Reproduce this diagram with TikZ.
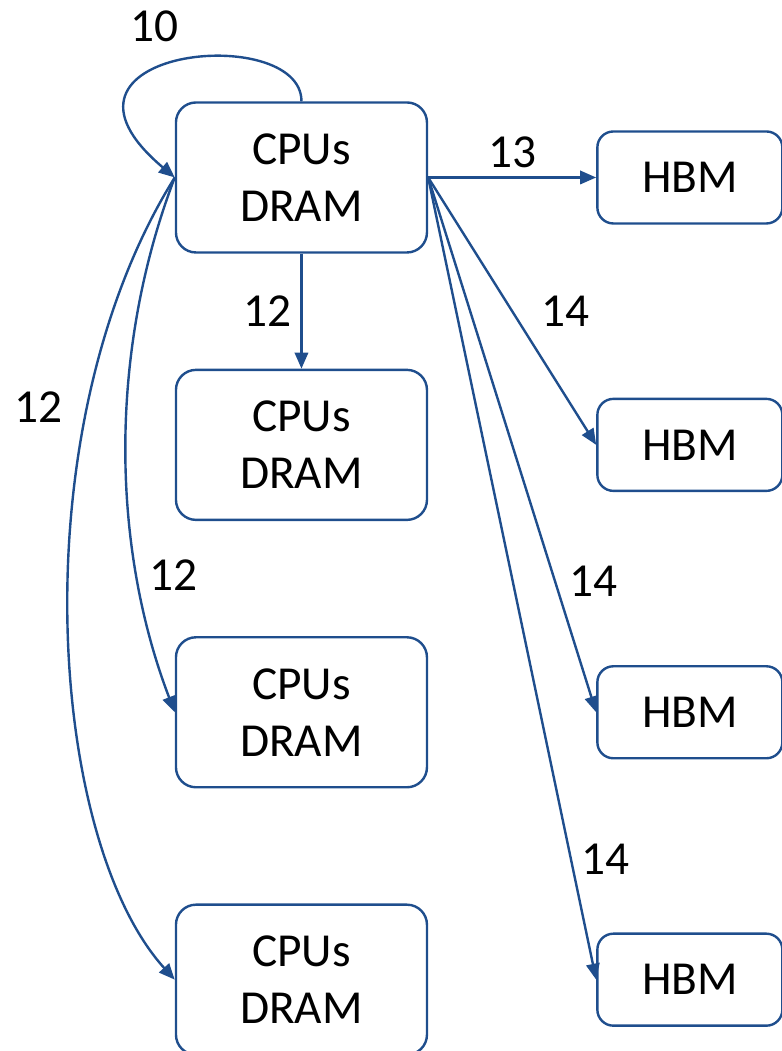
\documentclass[tikz,border=0pt]{standalone}
\usepackage{fontspec}
\setmainfont{Carlito}
\usepackage{tikz}
\usetikzlibrary{arrows.meta,positioning}
\definecolor{linkblue}{HTML}{1F4E8D}

\begin{document}
\begin{tikzpicture}[
    >={Triangle[length=12pt,width=10pt]},
    node distance=86.25pt and 126pt,
    font=\fontsize{35.5}{42.75}\selectfont,
    cpubox/.style={draw=linkblue, line width=1.8pt, rounded corners=15pt, align=center, minimum width=188.25pt, minimum height=112.5pt, inner sep=0pt},
    hbmbox/.style={draw=linkblue, line width=1.8pt, rounded corners=12pt, minimum width=138.75pt, minimum height=69pt, inner sep=0pt},
    link/.style={->, draw=linkblue, line width=1.8pt}
]
\useasboundingbox (0,0) rectangle (586.5pt,-788.25pt);

% CPU/DRAM column
\node[cpubox] (cpu1) at (226.1pt,-133.1pt) {CPUs\\DRAM};
\node[cpubox, below=of cpu1] (cpu2) {CPUs\\DRAM};
\node[cpubox, below=of cpu2] (cpu3) {CPUs\\DRAM};
\node[cpubox, below=of cpu3] (cpu4) {CPUs\\DRAM};

% HBM column
\node[hbmbox, right=of cpu1] (hbm1) {HBM};
\node[hbmbox, right=of cpu2] (hbm2) {HBM};
\node[hbmbox, right=of cpu3] (hbm3) {HBM};
\node[hbmbox, right=of cpu4] (hbm4) {HBM};

% links
\draw[link] (cpu1.north) .. controls +(0,60pt) and +(-114.75pt,96.75pt) .. (cpu1.west) node[pos=0.45, above left, xshift=-9pt, yshift=8pt] {10};
\draw[link] (cpu1) -- (cpu2) node[midway, left=3pt] {12};
\draw[link] (cpu1.west) .. controls +(-48.75pt,-127.5pt) and +(-48.75pt,127.5pt) .. (cpu3.west) node[pos=0.74, right=5pt] {12};
\draw[link] (cpu1.west) .. controls +(-117pt,-187.5pt) and +(-95.25pt,105pt) .. (cpu4.west) node[pos=0.27, left=14pt] {12};
\draw[link] (cpu1.east) -- (hbm1) node[midway, above=3pt] {13};
\draw[link] (cpu1.east) -- (hbm2.west) node[midway, right=18pt] {14};
\draw[link] (cpu1.east) -- (hbm3.west) node[pos=0.755, right=7pt] {14};
\draw[link] (cpu1.east) -- (hbm4.west) node[pos=0.85, right=4pt] {14};
\end{tikzpicture}
\end{document}
